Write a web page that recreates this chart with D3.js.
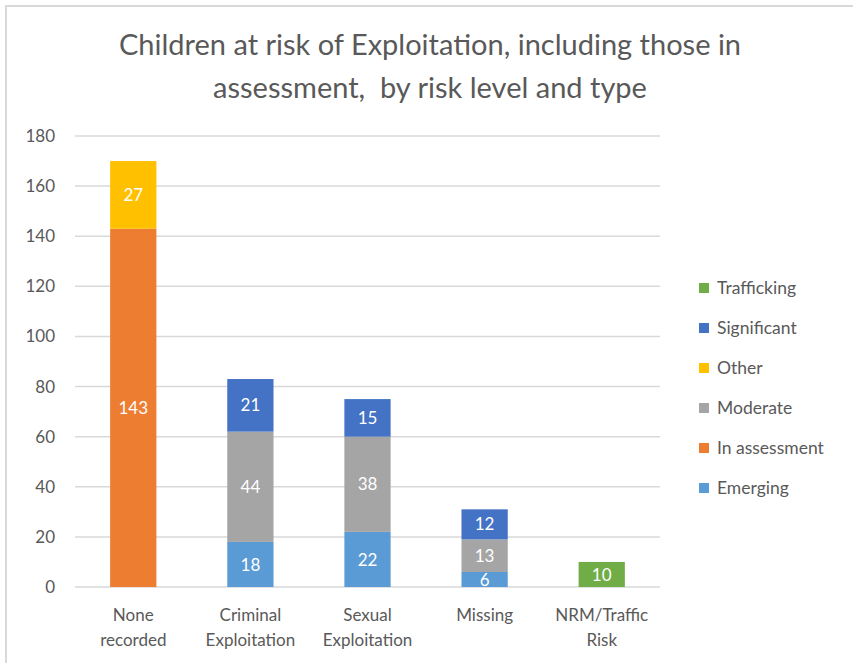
<!DOCTYPE html>
<html>
<head>
<meta charset="utf-8">
<script src="https://cdn.jsdelivr.net/npm/d3@7"></script>
<style>
  html, body { margin: 0; padding: 0; background: #fff; }
  svg { display: block; }
  text { font-family: Lato, "Open Sans", sans-serif; }
</style>
</head>
<body>
<svg id="chart" width="853" height="663"></svg>
<script>
const categories = [["None", "recorded"], ["Criminal", "Exploitation"], ["Sexual", "Exploitation"], ["Missing"], ["NRM/Traffic", "Risk"]];
const categoryKeys = ["None recorded", "Criminal Exploitation", "Sexual Exploitation", "Missing", "NRM/Traffic Risk"];
const seriesNames = ["Emerging", "In assessment", "Moderate", "Other", "Significant", "Trafficking"];
const emerging     = [0, 18, 22, 6, 0];
const inAssessment = [143, 0, 0, 0, 0];
const moderate     = [0, 44, 38, 13, 0];
const other        = [27, 0, 0, 0, 0];
const significant  = [0, 21, 15, 12, 0];
const trafficking  = [0, 0, 0, 0, 10];
const colors = ["#5B9BD5", "#ED7D31", "#A5A5A5", "#FFC000", "#4472C4", "#70AD47"];
const yTicks = [0, 20, 40, 60, 80, 100, 120, 140, 160, 180];
const titleLines = ["Children at risk of Exploitation, including those in", "assessment,  by risk level and type"];

const seriesValues = [emerging, inAssessment, moderate, other, significant, trafficking];
const table = categoryKeys.map((k, i) => {
  const row = { cat: k };
  seriesNames.forEach((s, j) => row[s] = seriesValues[j][i]);
  return row;
});

const svg = d3.select("#chart");
const W = 853, H = 663;
const plot = { left: 75, right: 660, top: 136, bottom: 587 };

// frame lines
svg.append("line").attr("x1", 5).attr("x2", W).attr("y1", 6).attr("y2", 6)
  .attr("stroke", "#d9d9d9").attr("stroke-width", 2);
svg.append("line").attr("x1", 6).attr("x2", 6).attr("y1", 6).attr("y2", H)
  .attr("stroke", "#d9d9d9").attr("stroke-width", 2);

// title
svg.append("g").selectAll("text").data(titleLines).join("text")
  .attr("x", 430).attr("y", (d, i) => 55 + i * 43)
  .attr("text-anchor", "middle")
  .attr("font-size", 29)
  .attr("fill", "#595959")
  .attr("xml:space", "preserve")
  .style("white-space", "pre")
  .text(d => d);

const x = d3.scaleBand().domain(categoryKeys).range([plot.left, plot.right]).paddingInner(0.605).paddingOuter(0.3);
const y = d3.scaleLinear().domain([0, 180]).range([plot.bottom, plot.top]);

// gridlines
svg.append("g").selectAll("line").data(yTicks).join("line")
  .attr("x1", plot.left).attr("x2", plot.right)
  .attr("y1", d => y(d)).attr("y2", d => y(d))
  .attr("stroke", "#d9d9d9").attr("stroke-width", 1.5);

// y axis
const yAxis = svg.append("g").attr("transform", `translate(${plot.left},0)`)
  .call(d3.axisLeft(y).tickValues(yTicks).tickSize(0).tickPadding(20));
yAxis.select(".domain").remove();
yAxis.selectAll("text").attr("font-size", 17).attr("fill", "#595959")
  .attr("font-family", "Lato, 'Open Sans', sans-serif");

// x axis labels
const xAxis = svg.append("g").attr("transform", `translate(0,${plot.bottom})`)
  .call(d3.axisBottom(x).tickSize(0).tickFormat(() => ""));
xAxis.select(".domain").remove();
xAxis.selectAll(".tick").each(function(d, i) {
  const t = d3.select(this).select("text");
  t.attr("font-size", 17).attr("fill", "#595959").attr("y", 0).attr("dy", null)
   .attr("font-family", "Lato, 'Open Sans', sans-serif");
  categories[i].forEach((line, j) => {
    t.append("tspan").attr("x", 0).attr("y", 34 + j * 25).text(line);
  });
});

// stacked bars
const stack = d3.stack().keys(seriesNames)(table);
const layers = svg.append("g").selectAll("g").data(stack).join("g")
  .attr("fill", (d, i) => colors[i]);
layers.selectAll("rect").data(d => d.filter(s => s[1] - s[0] > 0)).join("rect")
  .attr("x", d => x(d.data.cat))
  .attr("width", x.bandwidth())
  .attr("y", d => y(d[1]))
  .attr("height", d => y(d[0]) - y(d[1]));

// data labels
layers.selectAll("text").data(d => d.filter(s => s[1] - s[0] > 0)).join("text")
  .attr("x", d => x(d.data.cat) + x.bandwidth() / 2)
  .attr("y", d => (y(d[0]) + y(d[1])) / 2)
  .attr("dy", "0.36em")
  .attr("text-anchor", "middle")
  .attr("font-size", 17)
  .attr("fill", "#ffffff")
  .text(d => d[1] - d[0]);

// legend
const legendOrder = seriesNames.map((s, i) => ({ name: s, color: colors[i] })).reverse();
const lg = svg.append("g").selectAll("g").data(legendOrder).join("g")
  .attr("transform", (d, i) => `translate(699,${288 + i * 40})`);
lg.append("rect").attr("x", 0).attr("y", -5).attr("width", 10).attr("height", 10)
  .attr("fill", d => d.color);
lg.append("text").attr("x", 18).attr("dy", "0.35em")
  .attr("font-size", 17.5).attr("fill", "#595959").text(d => d.name);
</script>
</body>
</html>
